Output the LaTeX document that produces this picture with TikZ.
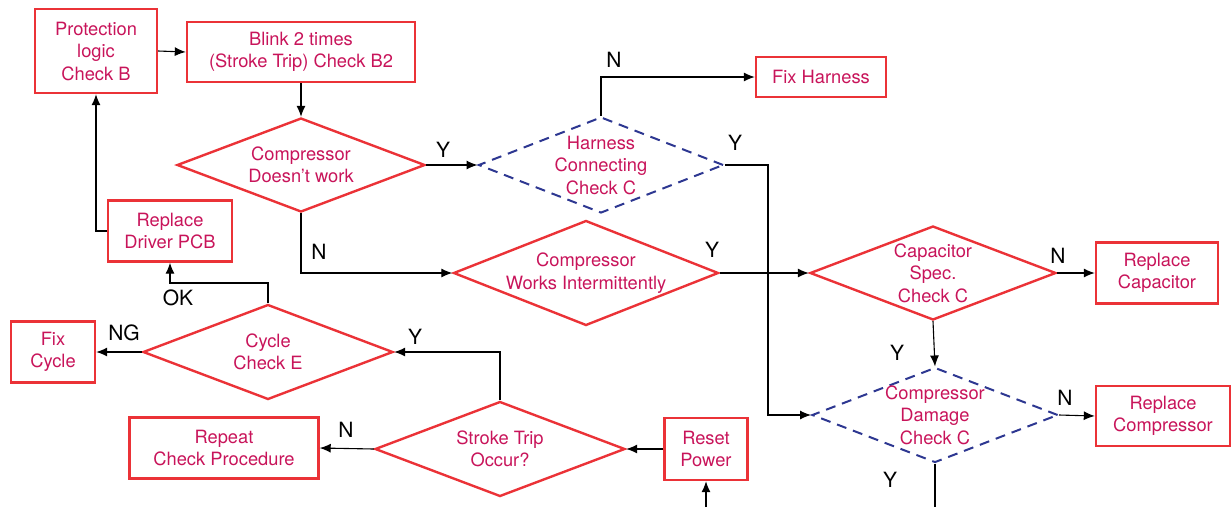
\documentclass[tikz,border=0pt]{standalone}
\usepackage{fontspec}
\setmainfont{TeX Gyre Heros}
\usepackage{xcolor}
\usepackage{tikz}
\usetikzlibrary{arrows.meta,positioning,shapes.geometric}
\definecolor{boxred}{RGB}{235,50,55}
\definecolor{txtred}{RGB}{200,20,90}
\definecolor{dashblue}{RGB}{45,55,145}

\begin{document}
\begin{tikzpicture}[x=1pt,y=-1pt,>={Latex[length=11pt,width=9pt]},font=\fontsize{18.3}{22.5}\selectfont,
  box/.style={draw=boxred,line width=2.4pt,text=txtred,align=center,inner sep=0pt},
  dia/.style={diamond,draw=boxred,line width=2.4pt,inner sep=0pt},
  dashdia/.style={diamond,draw=dashblue,line width=2pt,dash pattern=on 10pt off 7pt,inner sep=0pt},
  diatext/.style={text=txtred,align=center},
  flow/.style={->,line width=1.1pt},
  tag/.style={text=black,inner sep=0pt,font=\fontsize{21}{24}\selectfont}]
  \useasboundingbox (0,0) rectangle (1232,507);
  \node[box,minimum width=122,minimum height=84] (prot) at (96,51) {Protection\\logic\\Check B};
  \node[box,minimum width=228,minimum height=60] (blink) at (301,52) {Blink 2 times\\(Stroke Trip) Check B2};
  \node[box,minimum width=130,minimum height=40] (fixh) at (821,77) {Fix Harness};
  \node[box,minimum width=124,minimum height=61] (drv) at (170,231) {Replace\\Driver PCB};
  \node[box,minimum width=122,minimum height=61] (rcap) at (1157,273) {Replace\\Capacitor};
  \node[box,minimum width=134,minimum height=60] (rcomp) at (1163,416) {Replace\\Compressor};
  \node[box,minimum width=84,minimum height=61] (fixc) at (53,352) {Fix\\Cycle};
  \node[box,minimum width=189,minimum height=61] (rep) at (224,448) {Repeat\\Check Procedure};
  \node[box,minimum width=83,minimum height=62] (reset) at (706,449) {Reset\\Power};

  \node[dia,minimum width=248,minimum height=94,label={[diatext]center:Compressor\\Doesn’t work}] (cdw) at (301,165) {};
  \node[dashdia,minimum width=245,minimum height=96,label={[diatext]center:Harness\\Connecting\\Check C}] (hcc) at (601,165) {};
  \node[dia,minimum width=265,minimum height=105,label={[diatext]center:Compressor\\Works Intermittently}] (cwi) at (586,273) {};
  \node[dia,minimum width=246,minimum height=94,label={[diatext]center:Capacitor\\Spec.\\Check C}] (cap) at (933,273) {};
  \node[dashdia,minimum width=246,minimum height=95,label={[diatext]center:Compressor\\Damage\\Check C}] (dmg) at (935,415) {};
  \node[dia,minimum width=250,minimum height=95,label={[diatext]center:Cycle\\Check E}] (cyc) at (268,352) {};
  \node[dia,minimum width=250,minimum height=95,label={[diatext]center:Stroke Trip\\Occur?}] (stk) at (500,449) {};

  \coordinate (bus) at (768,165);
  \coordinate (okturn) at (268,283);
  \coordinate (dmgout) at (935,507);
  \coordinate (resetin) at (706,507);

  \draw[flow] (prot.east) -- (blink.west);
  \draw[flow] (blink.south) -- (cdw.north);
  \draw[flow] (cdw.east) -- (hcc.west);
  \draw[flow] (hcc.north) |- (fixh.west);
  \draw[flow] (hcc.east) -- (bus) |- (dmg.west);
  \draw[flow] (cdw.south) |- (cwi.west);
  \draw[flow] (cwi.east) -- (cap.west);
  \draw[flow] (cap.east) -- (rcap.west);
  \draw[flow] (cap.south) -- (dmg.north);
  \draw[flow] (dmg.east) -- (rcomp.west);
  \draw[line width=1.1pt] (dmg.south) -- (dmgout);
  \draw[flow] (stk.north) |- (cyc.east);
  \draw[flow] (cyc.west) -- (fixc.east);
  \draw[flow] (cyc.north) -- (okturn) -| (drv.south);
  \draw[flow] (drv.west) -| (prot.south);
  \draw[flow] (stk.west) -- (rep.east);
  \draw[flow] (reset.west) -- (stk.east);
  \draw[flow] (resetin) -- (reset.south);

  \node[tag] (ycdw) at (443,150) {Y};
  \node[tag] (nhcc) at (614,60) {N};
  \node[tag] (yhcc) at (735,143) {Y};
  \node[tag] (ncdw) at (319,252) {N};
  \node[tag] (ycwi) at (712,250) {Y};
  \node[tag] (ncap) at (1058,256) {N};
  \node[tag] (ycap) at (897,353) {Y};
  \node[tag] (ndmg) at (1065,398) {N};
  \node[tag] (ydmg) at (890,480) {Y};
  \node[tag] (ystk) at (415,337) {Y};
  \node[tag] (ngcyc) at (124,333) {NG};
  \node[tag] (okcyc) at (178,298) {OK};
  \node[tag] (nstk) at (346,430) {N};
\end{tikzpicture}
\end{document}
